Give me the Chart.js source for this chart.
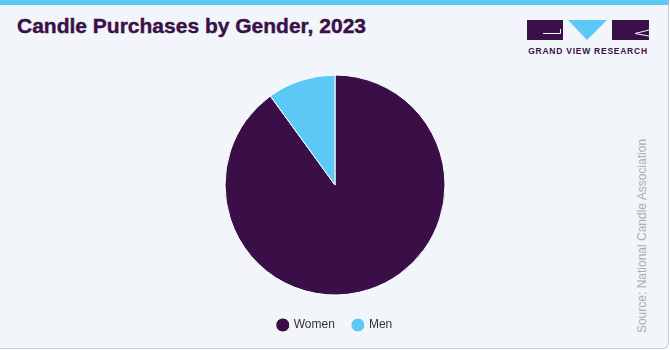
<!DOCTYPE html>
<html lang="en">
<head>
<meta charset="UTF-8">
<title>Candle Purchases by Gender, 2023</title>
<script src="https://cdn.jsdelivr.net/npm/chart.js@4.4.1/dist/chart.umd.min.js"></script>
<style>
  html, body { margin: 0; padding: 0; background: #fff; }
  .panel {
    position: relative; width: 668px; height: 343px;
    background: #f2f5f9; border-top: 5px solid #5bc8f5;
    border-right: 1px solid #c9ccd1; border-bottom: 1px solid #c9ccd1;
    border-bottom-right-radius: 6px; overflow: hidden;
  }
  h1 {
    position: absolute; left: 17px; top: 9px; margin: 0; white-space: nowrap;
    font: bold 21px "Liberation Sans", Arial, sans-serif;
    color: #3a1048; -webkit-text-stroke: 0.4px #3a1048;
  }
  .logo { position: absolute; left: 527px; top: 15px; width: 122px; }
  .logo svg { display: block; }
  .logo-name {
    position: absolute; left: 0; top: 26px; width: 122px; text-align: center; white-space: nowrap;
    font: bold 8.5px "Liberation Sans", Arial, sans-serif; color: #3a1048; letter-spacing: 0.75px;
  }
  .source {
    position: absolute; left: 642px; top: 231px; transform: translate(-50%, -50%) rotate(-90deg);
    white-space: nowrap; font: 12px "Liberation Sans", Arial, sans-serif; color: #a9adb3;
  }
  .chart-box { position: absolute; left: 170px; top: 56px; width: 330px; height: 280px; }
</style>
</head>
<body>
<div class="panel">
  <h1>Candle Purchases by Gender, 2023</h1>
  <div class="logo">
    <svg width="122" height="20" viewBox="0 0 122 20">
      <rect x="0" y="0" width="36" height="20" fill="#3a1048"/>
      <path d="M16 13.5 H33.5 V9" stroke="#f2f5f9" stroke-width="1" fill="none"/>
      <polygon points="41,0 80,0 60,20" fill="#5bc8f5"/>
      <rect x="85" y="0" width="37" height="20" fill="#3a1048"/>
      <path d="M122 10 L108 13.5 L122 16" stroke="#f2f5f9" stroke-width="1" fill="none"/>
    </svg>
    <div class="logo-name">GRAND VIEW RESEARCH</div>
  </div>
  <div class="source">Source: National Candle Association</div>
  <div class="chart-box"><canvas id="pie"></canvas></div>
</div>
<script>
  // share of candle purchases, percent
  const genders = ['Women', 'Men'];
  const shares = [90, 10];
  const sliceColors = ['#3a0f47', '#5bc8f5'];

  new Chart(document.getElementById('pie'), {
    type: 'pie',
    data: {
      labels: genders,
      datasets: [{
        data: shares,
        backgroundColor: sliceColors,
        borderColor: '#ffffff',
        borderWidth: 1
      }]
    },
    options: {
      responsive: true,
      maintainAspectRatio: false,
      animation: false,
      radius: 110,
      layout: { padding: { top: 8, bottom: 0 } },
      plugins: {
        tooltip: { enabled: false },
        legend: {
          position: 'bottom',
          labels: {
            usePointStyle: true,
            pointStyle: 'circle',
            boxWidth: 10,
            boxHeight: 10,
            padding: 18,
            color: '#333333',
            font: { family: '"Liberation Sans", Arial, sans-serif', size: 12 }
          }
        }
      }
    }
  });
</script>
</body>
</html>
